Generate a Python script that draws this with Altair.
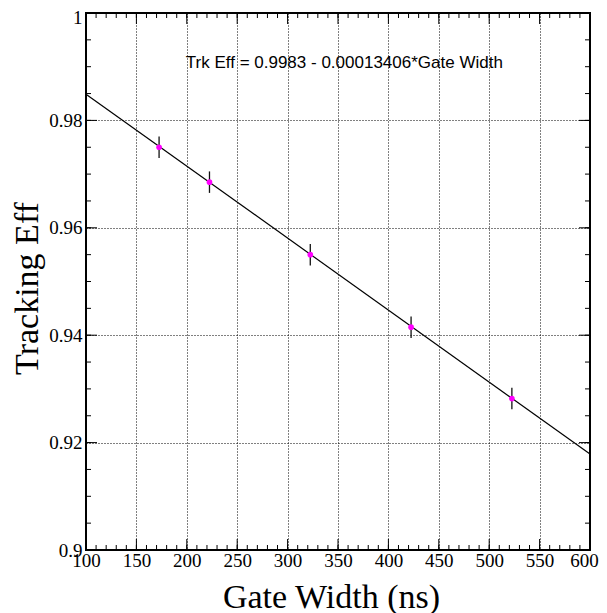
import altair as alt
import pandas as pd

# ---- data ----
gate_width = [172.5, 222.5, 322.5, 422.5, 522.5]
tracking_eff = [0.9750, 0.9685, 0.9550, 0.9415, 0.9282]
eff_err = [0.0020, 0.0020, 0.0020, 0.0020, 0.0020]

fit_x = [100, 600]
fit_y = [0.98489, 0.91787]

x_major = [100, 150, 200, 250, 300, 350, 400, 450, 500, 550, 600]
x_minor = list(range(100, 601, 10))
y_major = [0.90, 0.92, 0.94, 0.96, 0.98, 1.00]
y_minor = [round(0.9 + 0.005 * i, 3) for i in range(21)]

ann_text = "Trk Eff = 0.9983 - 0.00013406*Gate Width"
ann_x = 199
ann_y = 0.98975

W, H = 504, 537
SERIF = "Liberation Serif"

pts = pd.DataFrame({
    "gate": gate_width,
    "eff": tracking_eff,
    "lo": [e - d for e, d in zip(tracking_eff, eff_err)],
    "hi": [e + d for e, d in zip(tracking_eff, eff_err)],
})
fit = pd.DataFrame({"gx": fit_x, "gy": fit_y})

xs = alt.Scale(domain=[100, 600], nice=False, zero=False)
ys = alt.Scale(domain=[0.9, 1.0], nice=False, zero=False)

x_axis = alt.Axis(
    values=x_major, format="d", grid=True, gridDash=[1, 2], gridColor="#000000",
    gridOpacity={"condition": {"test": "datum.value <= 100 || datum.value >= 600", "value": 0}, "value": 1},
    labelOffset={"condition": {"test": "datum.value >= 600", "value": -6}, "value": 0},
    gridWidth=1, ticks=False, domain=False, labelFont=SERIF, labelFontSize=19,
    labelColor="black", labelPadding=1, labelFlush=False, labelOverlap=False,
    title="Gate Width (ns)", titleFont=SERIF, titleFontSize=34, titleFontWeight="normal",
    titleColor="black", titleX=245, titleY=57, titleAlign="center", titleBaseline="alphabetic",
)
y_axis = alt.Axis(
    values=y_major, format="~g", grid=True, gridDash=[1, 2], gridColor="#000000",
    gridOpacity={"condition": {"test": "datum.value <= 0.9001 || datum.value >= 0.9999", "value": 0}, "value": 1},
    labelOffset={"condition": {"test": "datum.value >= 0.9999", "value": 4}, "value": 0},
    gridWidth=1, ticks=False, domain=False, labelFont=SERIF, labelFontSize=19,
    labelColor="black", labelPadding=4, labelOverlap=False, labelFlush=False,
    title="Tracking Eff", titleFont=SERIF, titleFontSize=34, titleFontWeight="normal",
    titleColor="black", titleAngle=270, titleX=-49, titleY=275, titleAlign="center",
    titleBaseline="alphabetic",
)


def X(field):
    return alt.X(field, scale=xs, axis=x_axis, title="Gate Width (ns)")


def Y(field):
    return alt.Y(field, scale=ys, axis=y_axis, title="Tracking Eff")


line = alt.Chart(fit).mark_line(color="black", strokeWidth=1.2).encode(
    x=X("gx:Q"), y=Y("gy:Q"),
)

errs = alt.Chart(pts).mark_rule(color="#111111", strokeWidth=1.3).encode(
    x=X("gate:Q"), y=Y("lo:Q"), y2="hi:Q",
)

dots = alt.Chart(pts).mark_circle(color="#ff00ff", size=32, opacity=1).encode(
    x=X("gate:Q"), y=Y("eff:Q"),
)

ann = alt.Chart(pd.DataFrame({"t": [ann_text]})).mark_text(
    align="left", baseline="alphabetic", font="Liberation Sans", fontSize=17, color="black"
).encode(
    x=alt.datum(ann_x),
    y=alt.datum(ann_y),
    text="t:N",
)


def yticks(vals, length):
    d = pd.DataFrame({"v": vals})
    left = alt.Chart(d).mark_rule(color="black", strokeWidth=1).encode(
        y=Y("v:Q"), x=alt.value(0), x2=alt.value(length))
    right = alt.Chart(d).mark_rule(color="black", strokeWidth=1).encode(
        y=Y("v:Q"), x=alt.value(W - length), x2=alt.value(W))
    return [left, right]


def xticks(vals, length):
    d = pd.DataFrame({"v": vals})
    bottom = alt.Chart(d).mark_rule(color="black", strokeWidth=1).encode(
        x=X("v:Q"), y=alt.value(H), y2=alt.value(H - length))
    top = alt.Chart(d).mark_rule(color="black", strokeWidth=1).encode(
        x=X("v:Q"), y=alt.value(0), y2=alt.value(length))
    return [bottom, top]


layers = ([line] + yticks(y_minor, 5) + yticks(y_major, 11)
          + xticks(x_minor, 5) + xticks(x_major, 11) + [errs, dots, ann])

chart = alt.layer(*layers).properties(
    width=W, height=H,
    autosize=alt.AutoSizeParams(type="none"),
    padding={"left": 78, "top": 5, "right": 9, "bottom": 63},
    background="white",
).configure_view(stroke="black", strokeWidth=2, strokeOpacity=1)

chart.save("out.html", embed_options={"renderer": "svg", "actions": False})
